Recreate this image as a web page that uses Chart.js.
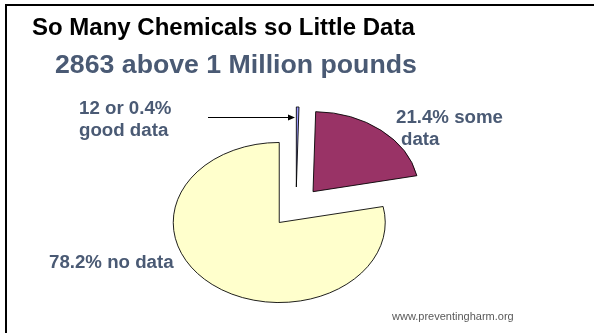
<!DOCTYPE html>
<html>
<head>
<meta charset="utf-8">
<script src="https://cdn.jsdelivr.net/npm/chart.js@4/dist/chart.umd.min.js"></script>
<style>
  html, body { margin: 0; padding: 0; background: #ffffff; }
  #wrap { width: 594px; height: 333px; }
  canvas { display: block; }
</style>
</head>
<body>
<div id="wrap"><canvas id="c" width="594" height="333"></canvas></div>
<script>
// ---- data ----
const categories = ['12 or 0.4% good data', '21.4% some data', '78.2% no data'];
const values = [0.4, 21.4, 78.2];
const titleText = 'So Many Chemicals so Little Data';
const subtitleText = '2863 above 1 Million pounds';
const labelLines = [['12 or 0.4%', 'good data'], ['21.4% some', 'data'], ['78.2% no data']];
const sourceText = 'www.preventingharm.org';

// ---- styles ----
const sliceColors = ['#9999FF', '#993366', '#FFFFCC'];
const TILT = 0.755;      // vertical squash of the pie
const EXPLODE = 26.5;    // explode distance of every slice
const FONT = '"Liberation Sans", Arial, sans-serif';
const SLATE = '#4a5a74';

const pieShape = {
  id: 'pieShape',
  beforeDraw(chart) {
    const ctx = chart.ctx;
    ctx.save();
    ctx.fillStyle = '#ffffff';
    ctx.fillRect(0, 0, chart.width, chart.height);
    ctx.fillStyle = '#000000';
    ctx.fillRect(5, 4, chart.width - 5, 2);
    ctx.fillRect(5, 4, 2, chart.height - 4);
    ctx.restore();
  },
  beforeDatasetsDraw(chart) {
    const ctx = chart.ctx;
    const meta = chart.getDatasetMeta(0);
    meta.data.forEach((arc) => {
      const cx = arc.x, cy = arc.y;
      const mid = (arc.startAngle + arc.endAngle) / 2;
      ctx.save();
      ctx.translate(cx, cy);
      ctx.scale(1, TILT);
      ctx.translate(Math.cos(mid) * EXPLODE, Math.sin(mid) * EXPLODE);
      ctx.translate(-cx, -cy);
      arc.draw(ctx);
      ctx.restore();
    });
    return false;
  },
  afterDraw(chart) {
    const ctx = chart.ctx;
    ctx.save();
    ctx.textBaseline = 'alphabetic';
    ctx.textAlign = 'left';
    // title
    ctx.fillStyle = '#000000';
    ctx.font = 'bold 24px ' + FONT;
    ctx.fillText(titleText, 32, 35);
    // subtitle
    ctx.fillStyle = SLATE;
    ctx.font = 'bold 26.7px ' + FONT;
    ctx.fillText(subtitleText, 55, 73);
    // labels
    ctx.font = 'bold 18.7px ' + FONT;
    const pos = [[79, 114], [396, 123], [49, 268]];
    const indent = [[0, 0], [0, 5], [0]];
    labelLines.forEach((lines, i) => {
      lines.forEach((t, j) => {
        ctx.fillText(t, pos[i][0] + indent[i][j], pos[i][1] + j * 21.7);
      });
    });
    // arrow to the thin slice
    ctx.strokeStyle = '#000000';
    ctx.fillStyle = '#000000';
    ctx.lineWidth = 1;
    ctx.beginPath();
    ctx.moveTo(208, 117.5);
    ctx.lineTo(290, 117.5);
    ctx.stroke();
    ctx.beginPath();
    ctx.moveTo(295, 117.5);
    ctx.lineTo(288, 114.5);
    ctx.lineTo(288, 120.5);
    ctx.closePath();
    ctx.fill();
    // source
    ctx.fillStyle = '#595959';
    ctx.font = '11px ' + FONT;
    ctx.fillText(sourceText, 392, 320);
    ctx.restore();
  }
};

new Chart(document.getElementById('c'), {
  type: 'pie',
  data: {
    labels: categories,
    datasets: [{
      data: values,
      backgroundColor: sliceColors,
      borderColor: '#000000',
      borderWidth: 1,
      radius: 106
    }]
  },
  options: {
    responsive: false,
    animation: false,
    devicePixelRatio: 1,
    layout: { padding: { left: 20, right: 22, top: 120, bottom: 39 } },
    plugins: {
      legend: { display: false },
      tooltip: { enabled: false },
      title: { display: false }
    }
  },
  plugins: [pieShape]
});
</script>
</body>
</html>
